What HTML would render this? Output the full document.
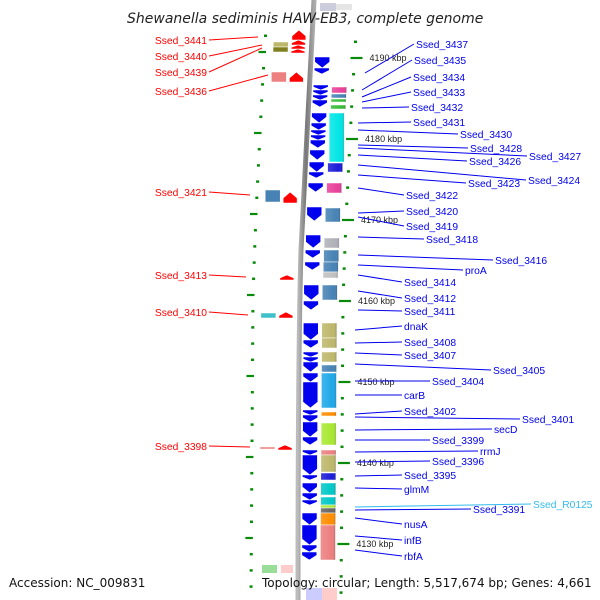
<!DOCTYPE html>
<html><head><meta charset="utf-8"><style>
html,body{margin:0;padding:0;background:#fff;width:600px;height:600px;overflow:hidden}
svg{display:block;font-family:"Liberation Sans","DejaVu Sans",sans-serif}
</style></head><body>
<svg id="map" width="600" height="600" viewBox="0 0 600 600">
<defs>
<linearGradient id="bbg" x1="0" x2="1"><stop offset="0" stop-color="#bbb"/><stop offset="0.5" stop-color="#777"/><stop offset="1" stop-color="#aaa"/></linearGradient>
<linearGradient id="shade" x1="0" x2="1"><stop offset="0" stop-color="#fff" stop-opacity="0.15"/><stop offset="0.75" stop-color="#fff" stop-opacity="0"/><stop offset="1" stop-color="#000" stop-opacity="0.2"/></linearGradient>
</defs>
<path d="M314,0 Q306,150 301,250 Q298,350 298,600" fill="none" stroke="url(#bbg)" stroke-width="5"/>
<g id="ticks"></g><g id="genes"></g><g id="labels"></g>
<text x="127" y="23" font-family="DejaVu Sans, sans-serif" font-size="14" font-style="italic" fill="#222">Shewanella sediminis HAW-EB3, complete genome</text>
<text x="9" y="587" font-family="DejaVu Sans, sans-serif" font-size="12" fill="#111">Accession: NC_009831</text>
<text x="262" y="587" font-family="DejaVu Sans, sans-serif" font-size="12" fill="#111">Topology: circular; Length: 5,517,674 bp; Genes: 4,661</text>
</svg>
<script>
// forward genes (blue arrows) [yStart,yEnd]
const fwdArrows=[[57,68],[68,74],[85,90],[90,95],[95,100],[100,107],[113,123],[123,130],[130,135],[135,140],[140,148],[150,160],[162,172],[172,178],[183,192],[207,221],[235,248],[250,258],[262,270],[285,300],[301,310],[323,340],[340,348],[352,357],[357,362],[362,372],[373,382],[382,408],[410,415],[415,422],[422,437],[437,445],[450,455],[455,475],[475,480],[483,493],[493,500],[500,505],[513,525],[525,545],[545,552],[552,560]];
// colored feature boxes [yStart,yEnd,color]
const fwdBoxes=[[87,93,"#e8409a"],[94,98,"#4682b4"],[99,102,"#33bb33"],[105,109,"#33bb33"],[113,162,"#00e5e5"],[163,172,"#1a1ad8"],[183,193,"#e8409a"],[208,222,"#4682b4"],[238,248,"#b0b0b8"],[250,262,"#4682b4"],[262,272,"#4682b4"],[272,278,"#c0c0c0"],[285,300,"#4682b4"],[323,338,"#bdb76b"],[338,348,"#bdb76b"],[352,362,"#bdb76b"],[365,372,"#4682b4"],[373,408,"#1ea8e8"],[412,416,"#ff8c00"],[423,445,"#a8e830"],[450,455,"#ec7f7f"],[455,472,"#bdb76b"],[473,480,"#1a1ad8"],[483,495,"#00c8c8"],[497,505,"#00c8c8"],[505,508,"#a8e830"],[508,513,"#666"],[513,525,"#ff8c00"],[525,560,"#ec7f7f"]];
// reverse genes (red arrows) [yStart,yEnd]
const revArrows=[[30,40],[40,45],[45,49],[49,53],[72,82],[192,203],[275,280],[312,318],[445,450]];
const revBoxes=[[42,47,"#bdb76b"],[47,52,"#808020"],[72,82,"#ec7f7f"],[190,202,"#4682b4"],[313,318,"#40c0c8"],[447,449,"#ec7f7f"]];
// kbp axis labels
const kbpTicks=[4190,4180,4170,4160,4150,4140,4130];
const leftLabels=[["Ssed_3441",40,258,37],["Ssed_3440",56,262,45],["Ssed_3439",72,262,48],["Ssed_3436",91,268,75],["Ssed_3421",192,250,195],["Ssed_3413",275,246,277],["Ssed_3410",312,248,315],["Ssed_3398",446,250,447]];
const rightLabels=[["Ssed_3437",416,44,365,73],["Ssed_3435",414,60,362,90],["Ssed_3434",413,77,362,97],["Ssed_3433",413,92,362,102],["Ssed_3432",411,107,362,108],["Ssed_3431",413,122,358,123],["Ssed_3430",460,134,358,130],["Ssed_3428",470,148,358,145],["Ssed_3427",529,156,358,148],["Ssed_3426",469,161,358,155],["Ssed_3424",528,180,358,165],["Ssed_3423",468,183,358,175],["Ssed_3422",406,195,358,188],["Ssed_3420",406,211,358,213],["Ssed_3419",406,226,358,217],["Ssed_3418",426,239,358,237],["Ssed_3416",495,260,358,255],["proA",465,270,358,265],["Ssed_3414",404,282,358,275],["Ssed_3412",404,298,358,291],["Ssed_3411",404,311,358,310],["dnaK",404,326,355,330],["Ssed_3408",404,342,355,343],["Ssed_3407",404,355,355,353],["Ssed_3405",493,370,355,364],["Ssed_3404",432,381,355,381],["carB",404,395,355,395],["Ssed_3402",404,411,355,414],["Ssed_3401",522,419,355,417],["secD",494,429,355,430],["Ssed_3399",432,440,355,440],["rrmJ",480,451,355,452],["Ssed_3396",432,461,355,462],["Ssed_3395",404,475,355,476],["glmM",404,489,355,488],["Ssed_R0125",533,504,355,507],["Ssed_3391",473,509,355,510],["nusA",404,524,355,518],["infB",404,540,355,536],["rbfA",404,556,355,550]];

const NS="http://www.w3.org/2000/svg";
function bb(y){const p=[[0,314],[100,308],[220,302],[300,299],[600,297]];for(let i=1;i<p.length;i++){if(y<=p[i][0]){const a=p[i-1],b=p[i];return a[1]+(b[1]-a[1])*(y-a[0])/(b[0]-a[0]);}}return 297;}
function kbY(k){return 58+(4190-k)*8.1;}
function mk(tag,attrs,parent){const e=document.createElementNS(NS,tag);for(const k in attrs)e.setAttribute(k,attrs[k]);parent.appendChild(e);return e;}
const G=document.getElementById('genes'),T=document.getElementById('ticks'),L=document.getElementById('labels');

for(let i=-3;i<40;i++){const y=kbY(4190)+i*16.2; if(y<28||y>600)continue;
 const long=(i%5===0);
 const lx=bb(y)-46, rx=bb(y)+44;
 const yl=y-6;
 let e=mk('line',{x1:long?lx-6:lx-1.5,x2:lx+1.5,y1:yl,y2:yl,stroke:'#0a8a0a','stroke-width':long?2.2:2.5},T);
 
 e=mk('line',{x1:long?rx-4:rx-1.5,x2:long?rx+8:rx+1.5,y1:y,y2:y,stroke:'#0a8a0a','stroke-width':long?2.2:2.5},T);
 
}
kbpTicks.forEach(k=>{const y=kbY(k);const x=bb(y)+59;
 const r=mk('rect',{x:x-1,y:y-5,width:44,height:10,fill:'#fff','fill-opacity':0.8},T);
 
 const t=mk('text',{x:x,y:y+3,'font-size':9,fill:'#222'},T);t.textContent=k+' kbp';
 });

fwdArrows.forEach(([a,b])=>{const c=bb((a+b)/2)+12,w=7.5,h=Math.min(6,(b-a)*0.6);
 const p=mk('polygon',{points:`${c-w},${a} ${c+w},${a} ${c+w},${b-h} ${c},${b} ${c-w},${b-h}`,fill:'#0000ee',stroke:'#fff','stroke-width':0.6},G);
 });
fwdBoxes.forEach(([a,b,col])=>{const x=bb((a+b)/2)+23;
 const r=mk('rect',{x:x,y:a,width:15,height:b-a,fill:col,stroke:'#fff','stroke-width':0.5},G);
 
 const s=mk('rect',{x:x,y:a,width:15,height:b-a,fill:'url(#shade)'},G);
 });
revArrows.forEach(([a,b])=>{const c=bb((a+b)/2)-13,w=7,h=Math.min(6,(b-a)*0.6);
 const p=mk('polygon',{points:`${c-w},${b} ${c+w},${b} ${c+w},${a+h} ${c},${a} ${c-w},${a+h}`,fill:'#ff0000',stroke:'#fff','stroke-width':0.6},G);
 });
revBoxes.forEach(([a,b,col])=>{const x=bb((a+b)/2)-38;
 const r=mk('rect',{x:x,y:a,width:15,height:b-a,fill:col,stroke:'#fff','stroke-width':0.5},G);
 });
[[320,3,16,8,'#ccd','forward-faint'],[336,4,16,6,'#e5e5e5','box-faint'],[262,565,15,8,'#9d9','green-faint'],[281,565,12,8,'#fcc','pink-faint'],[306,588,16,12,'#ccf','blue-faint'],[322,588,15,12,'#fcc','pink-faint2']].forEach(f=>{
 const r=mk('rect',{x:f[0],y:f[1],width:f[2],height:f[3],fill:f[4]},G);
 });

leftLabels.forEach(([n,y,x2,y2])=>{
 const l=mk('line',{x1:209,y1:y,x2:x2,y2:y2,stroke:'#f00','stroke-width':1},L);
 
 const t=mk('text',{x:207,y:y+4,'text-anchor':'end','font-size':10.3,fill:'#f00'},L);t.textContent=n;
 });
rightLabels.forEach(([n,x,y,x2,y2])=>{const col=n==='Ssed_R0125'?'#33bbee':'#0000ee';
 const l=mk('line',{x1:x-2,y1:y,x2:x2,y2:y2,stroke:col,'stroke-width':1},L);
 
 const t=mk('text',{x:x,y:y+4,'font-size':10.3,fill:col},L);t.textContent=n;
 });
</script>
</body></html>
